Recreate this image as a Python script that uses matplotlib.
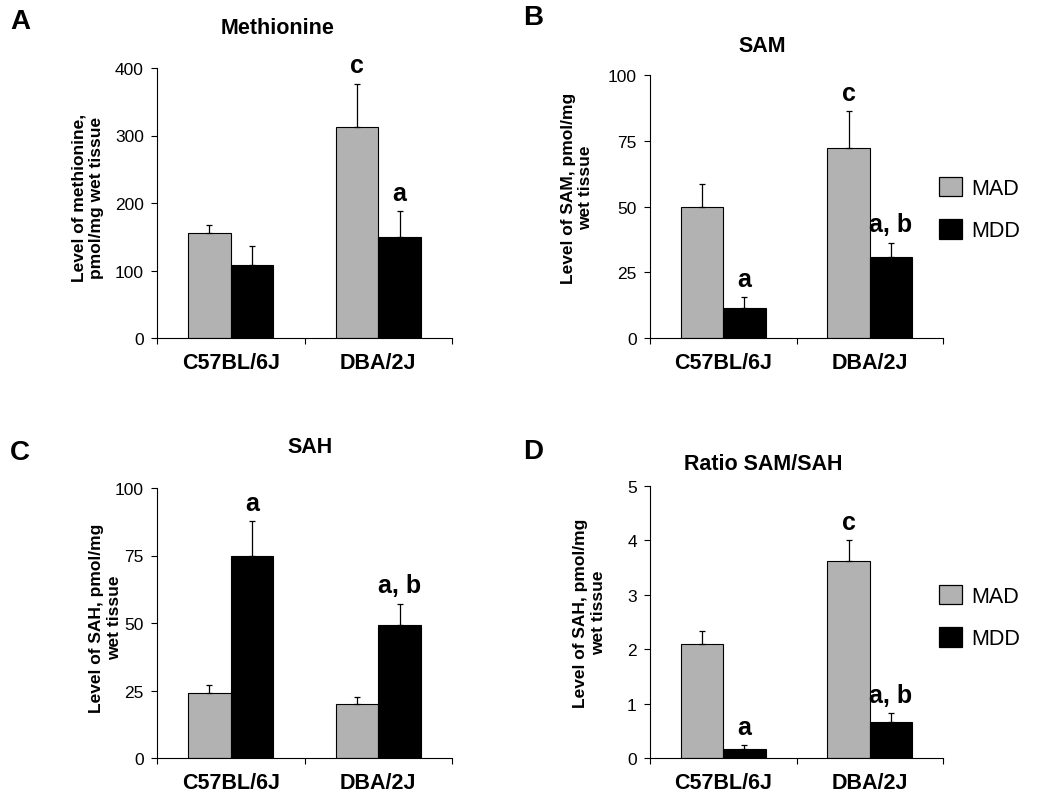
import matplotlib
matplotlib.use("Agg")
import matplotlib.pyplot as plt
from matplotlib.patches import Patch

plt.rcParams['font.family'] = ['Liberation Sans', 'DejaVu Sans']

# data
strains = ['C57BL/6J', 'DBA/2J']
groups = ['MAD', 'MDD']

met_mad = [156, 312]
met_mad_err = [12, 65]
met_mdd = [108, 150]
met_mdd_err = [28, 38]

sam_mad = [49.7, 72.2]
sam_mad_err = [8.7, 14.0]
sam_mdd = [11.4, 30.8]
sam_mdd_err = [4.3, 5.5]

sah_mad = [24.1, 19.9]
sah_mad_err = [3.0, 2.7]
sah_mdd = [74.7, 49.3]
sah_mdd_err = [13.0, 7.9]

ratio_mad = [2.09, 3.63]
ratio_mad_err = [0.24, 0.37]
ratio_mdd = [0.16, 0.66]
ratio_mdd_err = [0.07, 0.17]

# significance letters (mad, mdd) per strain
met_sig = [('', ''), ('c', 'a')]
sam_sig = [('', 'a'), ('c', 'a, b')]
sah_sig = [('', 'a'), ('', 'a, b')]
ratio_sig = [('', 'a'), ('c', 'a, b')]

W, H = 1050, 812
fig = plt.figure(figsize=(W / 100, H / 100), dpi=100)
fig.patch.set_facecolor('white')

GRAY = '#b2b2b2'


def px_axes(left, right, y0, ytop):
    return fig.add_axes([left / W, 1 - y0 / H, (right - left) / W, (y0 - ytop) / H])


def panel(ax, mad, mad_err, mdd, mdd_err, sig, ymax, yticks):
    bw = 0.289
    xs = [0.5, 1.5]
    x_mad = [x - bw / 2 for x in xs]
    x_mdd = [x + bw / 2 for x in xs]
    ax.bar(x_mad, mad, width=bw, color=GRAY, edgecolor='black', linewidth=0.8, zorder=2)
    ax.bar(x_mdd, mdd, width=bw, color='black', edgecolor='black', linewidth=0.8, zorder=2)
    ax.errorbar(x_mad, mad, yerr=[[0, 0], mad_err], fmt='none', ecolor='black',
                elinewidth=0.9, capsize=2.3, capthick=0.9, zorder=3)
    ax.errorbar(x_mdd, mdd, yerr=[[0, 0], mdd_err], fmt='none', ecolor='black',
                elinewidth=0.9, capsize=2.3, capthick=0.9, zorder=3)
    for i in range(2):
        for x, v, e, s in [(x_mad[i], mad[i], mad_err[i], sig[i][0]),
                           (x_mdd[i], mdd[i], mdd_err[i], sig[i][1])]:
            if s:
                ax.annotate(s, xy=(x, v + e), xytext=(0, 8), textcoords='offset points',
                            ha='center', va='baseline', fontsize=18, fontweight='bold',
                            annotation_clip=False)
    ax.set_xlim(0, 2)
    ax.set_ylim(0, ymax)
    ax.set_yticks(yticks)
    ax.set_yticklabels([str(t) for t in yticks], fontsize=12.5)
    ax.set_xticks([0, 1, 2])
    ax.set_xticklabels(['', '', ''])
    ax.set_xticks(xs, minor=True)
    ax.set_xticklabels(strains, minor=True, fontsize=15.5, fontweight='bold')
    ax.tick_params(axis='x', which='minor', length=0, pad=10)
    ax.tick_params(axis='x', which='major', length=4, width=0.8, direction='out')
    ax.tick_params(axis='y', length=4.5, width=0.8, direction='out', pad=5)
    for s in ['top', 'right']:
        ax.spines[s].set_visible(False)
    for s in ['left', 'bottom']:
        ax.spines[s].set_linewidth(0.8)
    ax.set_facecolor('white')


axA = px_axes(157, 452, 339, 69)
panel(axA, met_mad, met_mad_err, met_mdd, met_mdd_err, met_sig, 400, [0, 100, 200, 300, 400])
axB = px_axes(650, 943, 339, 76)
panel(axB, sam_mad, sam_mad_err, sam_mdd, sam_mdd_err, sam_sig, 100, [0, 25, 50, 75, 100])
axC = px_axes(157, 452, 759, 489)
panel(axC, sah_mad, sah_mad_err, sah_mdd, sah_mdd_err, sah_sig, 100, [0, 25, 50, 75, 100])
axD = px_axes(650, 943, 759, 487)
panel(axD, ratio_mad, ratio_mad_err, ratio_mdd, ratio_mdd_err, ratio_sig, 5, [0, 1, 2, 3, 4, 5])


def ftext(x, y, s, **kw):
    fig.text(x / W, 1 - y / H, s, **kw)


# panel letters
for x, y, s in [(20, 22, 'A'), (533, 18, 'B'), (20, 453, 'C'), (533, 452, 'D')]:
    ftext(x, y, s, fontsize=20, fontweight='bold', ha='center', va='center')

# titles
for x, y, s in [(278, 28, 'Methionine'), (762, 47, 'SAM'), (310, 448, 'SAH'),
                (763, 465, 'Ratio SAM/SAH')]:
    ftext(x, y, s, fontsize=15.5, fontweight='bold', ha='center', va='center')

# y labels
for x, y, s in [(88, 198, 'Level of methionine,\npmol/mg wet tissue'),
                (577, 188, 'Level of SAM, pmol/mg\nwet tissue'),
                (106, 618, 'Level of SAH, pmol/mg\nwet tissue'),
                (590, 613, 'Level of SAH, pmol/mg\nwet tissue')]:
    ftext(x, y, s, fontsize=12.5, fontweight='bold', ha='center', va='center',
          rotation=90, multialignment='center', linespacing=1.25)

handles = [Patch(facecolor=GRAY, edgecolor='black', linewidth=0.9),
           Patch(facecolor='black', edgecolor='black', linewidth=0.9)]
for ax, ytop in [(axB, 178), (axD, 586)]:
    ax.legend(handles, groups, loc='upper left', bbox_to_anchor=(939 / W, 1 - ytop / H),
              bbox_transform=fig.transFigure, frameon=False, fontsize=15.5,
              handlelength=1.07, handleheight=1.0, handletextpad=0.45,
              labelspacing=0.95, borderpad=0, borderaxespad=0)

fig.savefig('out.png', dpi=100, facecolor='white')
